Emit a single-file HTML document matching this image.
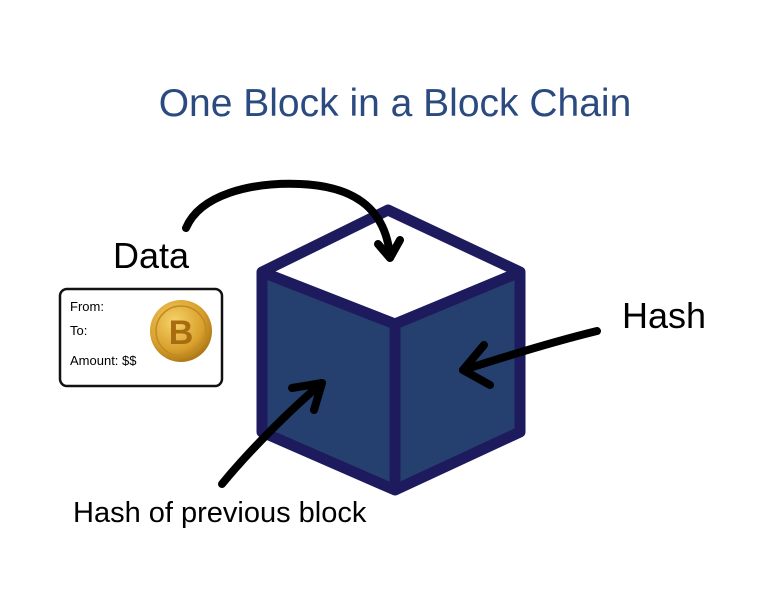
<!DOCTYPE html>
<html><head><style>
html,body{margin:0;padding:0;background:#fff;}
body{width:768px;height:606px;position:relative;overflow:hidden;font-family:"Liberation Sans",sans-serif;}
.t{position:absolute;white-space:nowrap;}
</style></head><body>
<div class="t" style="left:0;width:790px;text-align:center;top:82px;font-size:39px;color:#2b4a80;">One Block in a Block Chain</div>
<div class="t" style="left:113px;top:235px;font-size:36px;color:#000;">Data</div>
<div class="t" style="left:622px;top:295px;font-size:36px;color:#000;">Hash</div>
<div class="t" style="left:73px;top:497px;font-size:29px;color:#000;">Hash of previous block</div>
<svg width="768" height="606" style="position:absolute;left:0;top:0">
<defs><radialGradient id="g" cx="40%" cy="35%" r="65%"><stop offset="0" stop-color="#f6d36a"/><stop offset="0.7" stop-color="#d9a02c"/><stop offset="1" stop-color="#b07a18"/></radialGradient></defs>
<rect x="60" y="289" width="162" height="97" rx="7" fill="#fff" stroke="#111" stroke-width="2.5"/>
<text x="70" y="311" font-size="13" font-family="Liberation Sans">From:</text>
<text x="70" y="335" font-size="13" font-family="Liberation Sans">To:</text>
<text x="70" y="365" font-size="13" font-family="Liberation Sans">Amount: $$</text>
<circle cx="181" cy="331" r="31" fill="url(#g)"/>
<circle cx="181" cy="331" r="25" fill="none" stroke="#c18a22" stroke-width="1.5"/>
<text x="181" y="344" font-size="34" font-weight="bold" text-anchor="middle" fill="#a86c10" font-family="Liberation Sans">B</text>
<polygon points="388,210 520,272 395,324 262,272" fill="#fff"/>
<polygon points="262,272 395,324 395,490 262,432" fill="#253f6e"/>
<polygon points="395,324 520,272 520,432 395,490" fill="#253f6e"/>
<g fill="none" stroke="#1e1a5e" stroke-width="11" stroke-linejoin="round">
<polygon points="388,210 520,272 520,432 395,490 262,432 262,272"/>
<polyline points="262,272 395,324 520,272"/>
<line x1="395" y1="324" x2="395" y2="490"/>
</g>
<g fill="none" stroke="#000" stroke-width="8" stroke-linecap="round" stroke-linejoin="round">
<path d="M186,228 C200,195 250,182 300,184 C350,186 385,205 390,256"/>
<polyline points="378,244 390,258 400,240"/>
<path d="M597,331 C560,340 510,355 463,370"/>
<polyline points="484,345 463,370 490,385"/>
<path d="M222,484 C250,450 290,410 322,383"/>
<polyline points="292,388 322,383 314,410"/>
</g>
</svg>
</body></html>
